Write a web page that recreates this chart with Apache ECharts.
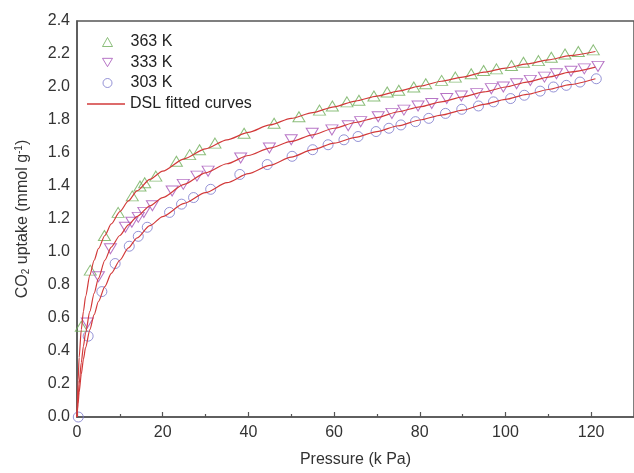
<!DOCTYPE html>
<html>
<head>
<meta charset="utf-8">
<script src="https://cdn.jsdelivr.net/npm/echarts@6/dist/echarts.min.js"></script>
<style>html,body{margin:0;padding:0;background:#fff}#c{width:634px;height:473px}</style>
</head>
<body>
<div id="c"></div>
<script>
// Measured points: [pressure kPa, uptake mmol/g]
const k363 = [[1.0,0.55],[3.1,0.89],[6.4,1.10],[9.6,1.24],[12.9,1.34],[14.7,1.40],[15.8,1.42],[18.4,1.46],[23.2,1.55],[26.3,1.59],[28.6,1.62],[32.2,1.66],[39,1.72],[46,1.78],[51.8,1.82],[56.6,1.86],[59.6,1.885],[63,1.91],[65.8,1.92],[69.3,1.945],[72.4,1.97],[75.1,1.98],[78.6,2.00],[81.4,2.02],[85.1,2.04],[88.3,2.06],[92,2.08],[94.9,2.10],[97.9,2.11],[101.4,2.13],[104.2,2.15],[107.7,2.16],[110.7,2.18],[113.9,2.20],[117,2.215],[120.5,2.225]];
const k333 = [[2.4,0.57],[5.0,0.85],[7.8,1.02],[11.3,1.15],[12.8,1.18],[14.3,1.21],[15.6,1.24],[17.6,1.28],[22.2,1.37],[24.8,1.41],[28,1.46],[30.6,1.49],[38.2,1.57],[44.9,1.63],[50,1.68],[54.9,1.72],[59.5,1.74],[63.3,1.765],[66.2,1.79],[70.3,1.82],[73.5,1.84],[76.3,1.86],[79.6,1.885],[82.8,1.90],[86.3,1.93],[89.7,1.945],[93.3,1.96],[96.7,1.99],[99.5,2.00],[102.6,2.02],[105.8,2.04],[109.1,2.06],[111.9,2.08],[115.3,2.095],[118.4,2.11],[121.6,2.125]];
const k303 = [[0.3,0.0],[2.6,0.49],[5.8,0.76],[8.9,0.93],[12.2,1.035],[14.3,1.095],[16.4,1.15],[21.6,1.24],[24.4,1.29],[27.2,1.33],[31.2,1.38],[38,1.47],[44.4,1.53],[50.2,1.58],[55,1.62],[58.6,1.65],[62.3,1.68],[65.6,1.70],[69.8,1.73],[72.8,1.75],[75.6,1.77],[79,1.79],[82.1,1.81],[86,1.84],[89.8,1.865],[93.7,1.885],[97.2,1.91],[101.2,1.93],[104.4,1.95],[108.1,1.975],[111.2,2.00],[114.2,2.01],[117.4,2.03],[121.2,2.05]];
// Fitted (DSL) curves
const fit363 = [[0,0],[0.25,0.22],[0.5,0.36],[1,0.53],[1.5,0.64],[2,0.73],[3,0.86],[4,0.95],[5,1.02],[6.5,1.10],[8,1.17],[10,1.245],[12,1.31],[14,1.37],[17,1.44],[20,1.49],[25,1.565],[30,1.625],[35,1.68],[40,1.725],[45,1.77],[50,1.81],[55,1.845],[60,1.88],[65,1.915],[70,1.945],[75,1.975],[80,2.005],[85,2.035],[90,2.06],[95,2.09],[100,2.115],[105,2.14],[110,2.165],[115,2.19],[121,2.215]];
const fit333 = [[0,0],[0.25,0.11],[0.5,0.20],[1,0.33],[1.5,0.43],[2,0.51],[3,0.64],[4,0.75],[5,0.84],[6.5,0.95],[8,1.03],[10,1.10],[12,1.165],[14,1.215],[17,1.28],[20,1.33],[25,1.41],[30,1.48],[35,1.535],[40,1.585],[45,1.63],[50,1.67],[55,1.71],[60,1.75],[65,1.785],[70,1.815],[75,1.85],[80,1.88],[85,1.91],[90,1.94],[95,1.97],[100,2.00],[105,2.03],[110,2.06],[115,2.09],[121,2.12]];
const fit303 = [[0,0],[0.25,0.08],[0.5,0.15],[1,0.26],[1.5,0.35],[2,0.42],[3,0.53],[4,0.62],[5,0.70],[6.5,0.79],[8,0.87],[10,0.95],[12,1.025],[14,1.085],[17,1.16],[20,1.215],[25,1.295],[30,1.36],[35,1.42],[40,1.475],[45,1.525],[50,1.575],[55,1.62],[60,1.66],[65,1.695],[70,1.73],[75,1.765],[80,1.80],[85,1.83],[90,1.86],[95,1.895],[100,1.925],[105,1.955],[110,1.985],[115,2.015],[121,2.05]];
const names = ['363 K','333 K','303 K','DSL fitted curves'];

const FONT = 'Liberation Sans, Arial, sans-serif';
const GREEN = '#6fae5a', PURPLE = '#a552b8', BLUE = '#7a78cc', RED = '#d23a3a';
const DOWN_TRI = 'path://M0,0L12,0L6,10Z';
const chart = echarts.init(document.getElementById('c'), null, {renderer:'canvas'});
function sc(name, data, sym, color, size){
  return {name, type:'scatter', data, symbol:sym, symbolSize:size,
    itemStyle:{color:'rgba(0,0,0,0)', borderColor:color, borderWidth:1}, z:2, silent:true};
}
function ln(data){
  return {name:names[3], type:'line', data, symbol:'none', smooth:0.25, smoothMonotone:'x',
    lineStyle:{color:RED, width:1.2}, itemStyle:{color:RED}, z:3, silent:true};
}
const hollow = c => ({color:'rgba(0,0,0,0)', borderColor:c, borderWidth:1});
chart.setOption({
  animation:false,
  backgroundColor:'#fff',
  textStyle:{fontFamily:FONT},
  grid:{left:77, top:21, width:559, height:401, show:true, borderColor:'#555', borderWidth:1.5, backgroundColor:'transparent'},
  legend:[{
    left:102, top:34, padding:0, orient:'vertical', itemWidth:10, itemHeight:9, itemGap:4.5,
    textStyle:{fontFamily:FONT, fontSize:16, color:'#222', padding:[0,0,0,13]},
    data:[{name:names[0], icon:'triangle', itemStyle:hollow(GREEN)},
          {name:names[1], icon:DOWN_TRI, itemStyle:hollow(PURPLE)},
          {name:names[2], icon:'circle', itemStyle:hollow(BLUE)}]
  },{
    left:87, top:96, padding:0, orient:'vertical', itemWidth:38, itemHeight:1.5,
    textStyle:{fontFamily:FONT, fontSize:16, color:'#222'},
    data:[{name:names[3], icon:'rect', itemStyle:{color:RED, borderWidth:0}}]
  }],
  xAxis:{
    type:'value', min:0, max:130, interval:20,
    axisLine:{onZero:false, lineStyle:{color:'#555', width:1.5}},
    axisTick:{inside:true, length:5, lineStyle:{color:'#555', width:1.2}},
    minorTick:{show:true, splitNumber:2, length:3, lineStyle:{color:'#555', width:1.2}},
    splitLine:{show:false},
    axisLabel:{showMaxLabel:false, color:'#333', fontSize:16, fontFamily:FONT, margin:8},
    name:'Pressure (k Pa)', nameLocation:'middle', nameGap:35,
    nameTextStyle:{color:'#333', fontSize:16, fontFamily:FONT}
  },
  yAxis:{
    type:'value', min:0, max:2.4, interval:0.2,
    axisLine:{onZero:false, lineStyle:{color:'#555', width:1.5}},
    axisTick:{show:false},
    splitLine:{show:false},
    axisLabel:{color:'#333', fontSize:16, fontFamily:FONT, margin:7, formatter:v=>v.toFixed(1)},
    name:'CO{sub|2} uptake (mmol g{sup|-1})', nameLocation:'middle', nameGap:46,
    nameTextStyle:{color:'#333', fontSize:16, fontFamily:FONT,
      rich:{sub:{fontSize:10, verticalAlign:'bottom', padding:[7,0,0,0], color:'#333', fontFamily:FONT},
            sup:{fontSize:10, verticalAlign:'top', padding:[0,0,7,0], color:'#333', fontFamily:FONT}}}
  },
  series:[
    sc(names[0], k363, 'triangle', GREEN, [12,10]),
    sc(names[1], k333, DOWN_TRI, PURPLE, [12,10]),
    sc(names[2], k303, 'circle', BLUE, 10),
    ln(fit363), ln(fit333), ln(fit303)
  ]
});
</script>
</body>
</html>
